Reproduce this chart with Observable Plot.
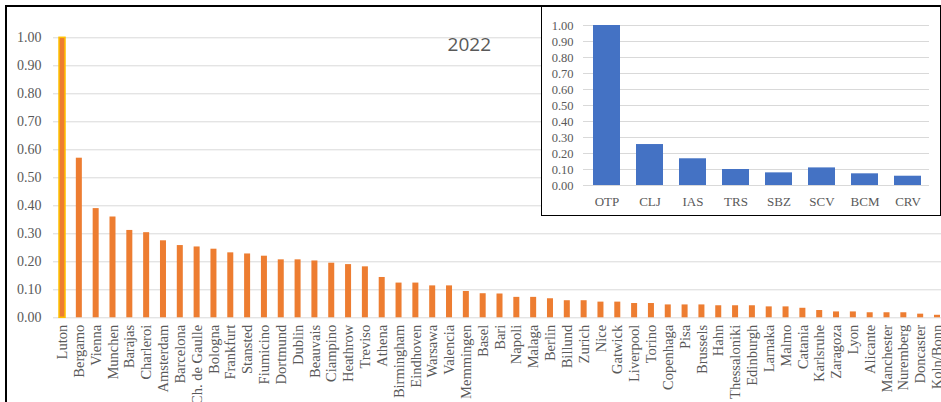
<!DOCTYPE html>
<html>
<head>
<meta charset="utf-8">
<script src="https://cdn.jsdelivr.net/npm/d3@7"></script>
<script src="https://cdn.jsdelivr.net/npm/@observablehq/plot@0.6"></script>
<style>
  html, body { margin: 0; padding: 0; background: #fff; }
  #wrap { position: relative; width: 941px; height: 402px; overflow: hidden; background: #fff; }
  #frame { position: absolute; left: 5px; top: 5px; width: 940px; height: 400px; border-top: 2px solid #000; border-left: 2px solid #000; box-sizing: border-box; pointer-events: none; }
  #inset { position: absolute; left: 541px; top: 6px; width: 400px; height: 210px; }
  #insetBorder { position: absolute; left: 541px; top: 6px; width: 400px; height: 210px; border: 1.5px solid #000; border-top: none; box-sizing: border-box; pointer-events: none; }
  #main { position: absolute; left: 0; top: 0; }
  #wrap svg text { font-family: "Liberation Serif", "Times New Roman", serif !important; }
  #wrap svg text.title2022, #wrap svg .title2022 text { font-family: "Open Sans", "Liberation Sans", sans-serif !important; }
</style>
</head>
<body>
<div id="wrap">
  <div id="main"></div>
  <div id="inset"></div>
  <div id="insetBorder"></div>
  <div id="frame"></div>
</div>
<script>
const airports = ["Luton","Bergamo","Vienna","Munchen","Barajas","Charleroi","Amsterdam","Barcelona","Ch. de Gaulle","Bologna","Frankfurt","Stansted","Fiumicino","Dortmund","Dublin","Beauvais","Ciampino","Heathrow","Treviso","Athena","Birmingham","Eindhoven","Warsawa","Valencia","Memmingen","Basel","Bari","Napoli","Malaga","Berlin","Billund","Zurich","Nice","Gatwick","Liverpool","Torino","Copenhaga","Pisa","Brussels","Hahn","Thessaloniki","Edinburgh","Larnaka","Malmo","Catania","Karlsruhe","Zaragoza","Lyon","Alicante","Manchester","Nuremberg","Doncaster","Koln/Bonn"];
const values = [1.00,0.57,0.39,0.36,0.312,0.304,0.275,0.258,0.253,0.245,0.232,0.228,0.220,0.207,0.207,0.203,0.195,0.190,0.182,0.144,0.124,0.124,0.114,0.114,0.094,0.086,0.085,0.073,0.073,0.068,0.061,0.061,0.056,0.056,0.051,0.051,0.046,0.046,0.046,0.043,0.043,0.043,0.039,0.039,0.034,0.026,0.021,0.021,0.018,0.018,0.018,0.013,0.009];
const highlighted = ["Luton"];
const yTicks = [0,0.1,0.2,0.3,0.4,0.5,0.6,0.7,0.8,0.9,1.0];
const titleText = "2022";
const titleAt = "Memmingen";
const titleY = 0.975;

const insetCodes = ["OTP","CLJ","IAS","TRS","SBZ","SCV","BCM","CRV"];
const insetValues = [1.00,0.256,0.167,0.100,0.079,0.110,0.073,0.058];
const insetTicks = [0,0.1,0.2,0.3,0.4,0.5,0.6,0.7,0.8,0.9,1.0];

const mainData = airports.map((a, i) => ({airport: a, value: values[i], hi: highlighted.includes(a)}));
const insetData = insetCodes.map((c, i) => ({code: c, value: insetValues[i]}));

const txt = "#595959";

const main = Plot.plot({
  width: 941,
  height: 402,
  marginLeft: 53,
  marginRight: 0,
  marginTop: 37.3,
  marginBottom: 84.7,
  style: {background: "transparent", overflow: "visible"},
  x: {domain: airports, range: [53.6, 945.4], paddingInner: 0.643, paddingOuter: 0.3215, align: 0.5},
  y: {domain: [0, 1]},
  marks: [
    Plot.gridY(yTicks, {stroke: "#d9d9d9", strokeOpacity: 1, strokeWidth: 1}),
    Plot.axisY(yTicks, {tickSize: 0, tickPadding: 12, tickFormat: d => d.toFixed(2), fontSize: 14, fill: txt, label: null}),
    Plot.barY(mainData.filter(d => !d.hi), {x: "airport", y: "value", fill: "#ED7D31"}),
    Plot.barY(mainData.filter(d => d.hi), {x: "airport", y: "value", fill: "#ED7D31", stroke: "#FFC000", strokeWidth: 1.5}),
    Plot.axisX({tickSize: 0, tickPadding: 7, tickRotate: -90, fontSize: 14.5, fill: txt, label: null}),
    Plot.text([titleText], {x: [titleAt], y: [titleY], text: d => d, dx: 3, fontSize: 19, fill: txt, className: "title2022"})
  ]
});
document.getElementById("main").append(main);

const inset = Plot.plot({
  width: 400,
  height: 210,
  marginLeft: 42,
  marginRight: 12,
  marginTop: 19,
  marginBottom: 31,
  style: {background: "#fff"},
  x: {domain: insetCodes, range: [43.1, 388.3], paddingInner: 0.374, paddingOuter: 0.187, align: 0.5},
  y: {domain: [0, 1]},
  marks: [
    Plot.gridY(insetTicks, {stroke: "#d9d9d9", strokeOpacity: 1, strokeWidth: 1}),
    Plot.axisY(insetTicks, {tickSize: 0, tickPadding: 10, tickFormat: d => d.toFixed(2), fontSize: 12.5, fill: txt, label: null}),
    Plot.barY(insetData, {x: "code", y: "value", fill: "#4472C4"}),
    Plot.axisX({tickSize: 0, tickPadding: 11, fontSize: 13, fill: txt, label: null})
  ]
});
document.getElementById("inset").append(inset);
</script>
</body>
</html>
